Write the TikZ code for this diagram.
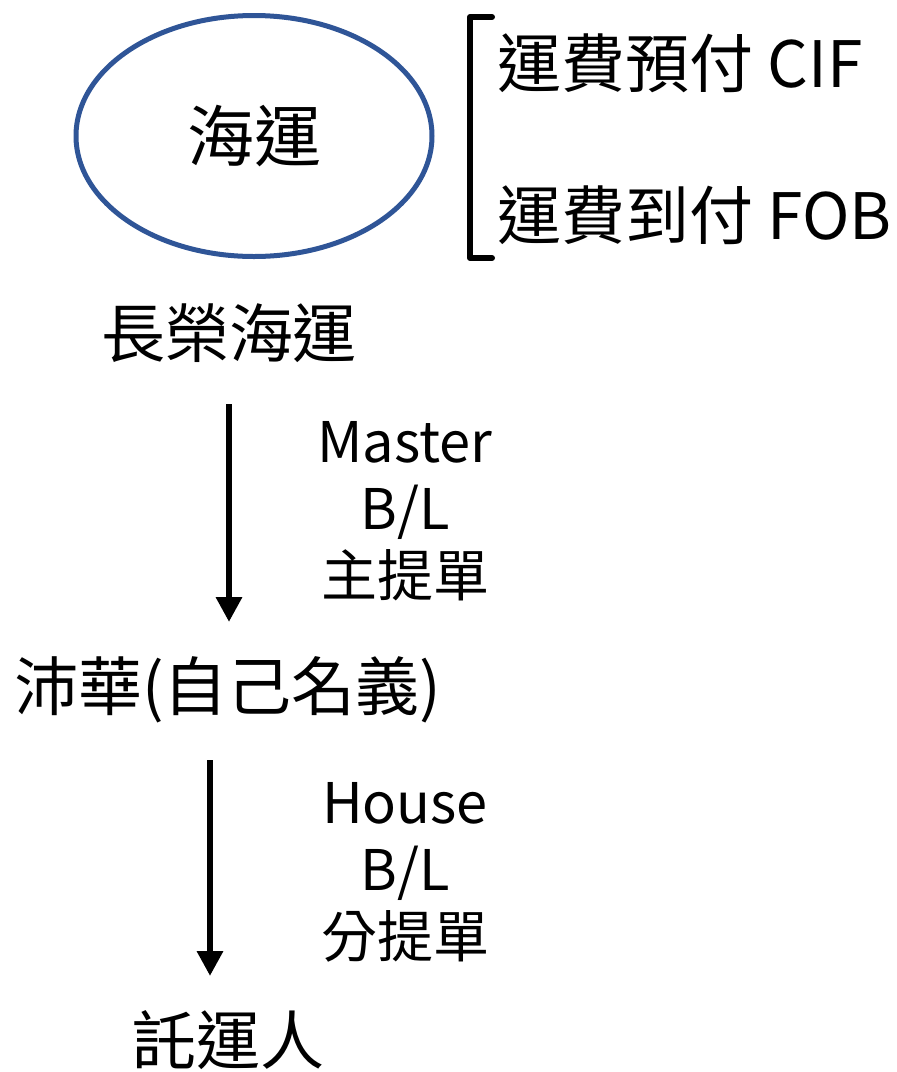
\documentclass[tikz,border=0pt]{standalone}
\usepackage{fontspec}
\setmainfont{Noto Sans CJK TC}
\usetikzlibrary{%
  positioning
 ,arrows.meta
 ,shapes.geometric
}
\definecolor{seablue}{HTML}{2F5597}
\tikzstyle{lbl}=[inner sep=0pt,font=\fontsize{64}{70}\selectfont]
\tikzstyle{doc}=[inner sep=0pt,align=center,font=\fontsize{56}{67}\selectfont]
\tikzstyle{port}=[ellipse,draw=seablue,line width=5pt,minimum width=356pt,minimum height=241pt,inner sep=0pt,font=\fontsize{67}{70}\selectfont]
\tikzstyle{flow}=[line width=6.5pt,-{Triangle[length=25pt,width=25pt]}]
\tikzstyle{brk}=[line width=6pt,line cap=round,line join=round]

\begin{document}
\begin{tikzpicture}[x=1pt,y=-1pt]
  \useasboundingbox (0,0) rectangle (897,1072);
  \node[port]               (sea)       at (254,136) {海運};
  \node[lbl,anchor=west]    (cif)       at (497,63)  {運費預付 CIF};
  \node[lbl,anchor=west]    (fob)       at (497,215) {運費到付 FOB};
  \node[lbl]                (evergreen) at (229,333) {長榮海運};
  \node[lbl]                (forwarder) at (228,690) {沛華(自己名義)};
  \node[lbl]                (shipper)   at (228,1040) {託運人};
  \node[doc]                (master)    at (405,511) {Master\\B/L\\主提單};
  \node[doc]                (house)     at (405,872) {House\\B/L\\分提單};
% 
  \coordinate (brk_top) at (492,17);
  \coordinate (brk_bot) at (492,258);
  \draw[brk] (brk_top) -- (470,17) -- (470,258) -- (brk_bot);
% 
  \coordinate (a1_s) at (229,404);
  \coordinate (a1_e) at (229,622);
  \coordinate (a2_s) at (210,760);
  \coordinate (a2_e) at (210,976);
  \draw[flow] (a1_s) -- (a1_e);
  \draw[flow] (a2_s) -- (a2_e);
\end{tikzpicture}
\end{document}
